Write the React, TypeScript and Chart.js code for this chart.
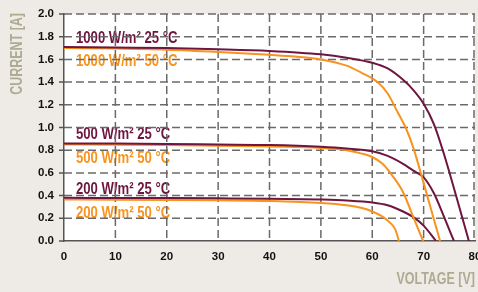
import React, { useEffect, useRef } from "react";
import { Chart, registerables } from "chart.js";

Chart.register(...registerables);

// Voltage [V] and current [A] samples
const voltage1000at25 = [0, 10, 20, 30, 40, 50, 55, 60, 63, 66, 68, 70, 72, 74, 76, 78, 78.8];
const current1000at25 = [1.71, 1.705, 1.7, 1.69, 1.675, 1.645, 1.615, 1.57, 1.52, 1.42, 1.33, 1.21, 1.03, 0.76, 0.45, 0.13, 0];

const voltage1000at50 = [0, 10, 20, 30, 40, 45, 50, 55, 58, 61, 63, 65, 66.5, 68, 70, 72, 73.2];
const current1000at50 = [1.7, 1.695, 1.685, 1.665, 1.64, 1.625, 1.6, 1.545, 1.48, 1.4, 1.3, 1.13, 1.0, 0.82, 0.51, 0.19, 0];

const voltage500at25 = [0, 10, 20, 30, 40, 50, 55, 60, 63, 66, 68, 70, 72, 74, 75.9];
const current500at25 = [0.86, 0.858, 0.855, 0.85, 0.845, 0.83, 0.815, 0.79, 0.75, 0.68, 0.62, 0.56, 0.42, 0.21, 0];

const voltage500at50 = [0, 10, 20, 30, 40, 50, 55, 58, 60, 62, 64, 66, 68, 69.9];
const current500at50 = [0.85, 0.848, 0.845, 0.84, 0.832, 0.82, 0.8, 0.77, 0.74, 0.68, 0.57, 0.43, 0.21, 0];

const voltage200at25 = [0, 10, 20, 30, 40, 50, 55, 60, 63, 66, 68, 70, 72.4];
const current200at25 = [0.38, 0.379, 0.378, 0.376, 0.373, 0.365, 0.357, 0.34, 0.315, 0.26, 0.21, 0.135, 0];

const voltage200at50 = [0, 10, 20, 30, 40, 50, 55, 58, 60, 62, 63.5, 64.5, 65.2];
const current200at50 = [0.365, 0.364, 0.362, 0.358, 0.352, 0.335, 0.315, 0.29, 0.26, 0.215, 0.16, 0.1, 0];

// axis tick values
const voltageTicks = [0, 10, 20, 30, 40, 50, 60, 70, 80];
const currentTicks = [0, 0.2, 0.4, 0.6, 0.8, 1.0, 1.2, 1.4, 1.6, 1.8, 2.0];

const seriesLabels = [
  "1000 W/m\u00B2 25 \u00B0C",
  "1000 W/m\u00B2 50 \u00B0C",
  "500 W/m\u00B2 25 \u00B0C",
  "500 W/m\u00B2 50 \u00B0C",
  "200 W/m\u00B2 25 \u00B0C",
  "200 W/m\u00B2 50 \u00B0C",
];
const seriesTemps = [25, 50, 25, 50, 25, 50];

const xAxisTitle = "VOLTAGE [V]";
const yAxisTitle = "CURRENT [A]";

const DARK = "#6e1540";
const ORANGE = "#f7931e";
const PAGE_BG = "#eeeae6";
const TITLE_COLOR = "#adac93";
const GRID_COLOR = "#6a6a6a";
const AXIS_COLOR = "#555555";
const SANS = "'Liberation Sans', Arial, Helvetica, sans-serif";
const LABEL_CONDENSE = 0.82;
const TITLE_CONDENSE = 0.78;

function narrowText(
  ctx: CanvasRenderingContext2D,
  text: string,
  x: number,
  y: number,
  align: "left" | "right",
  condense: number
) {
  ctx.save();
  ctx.translate(x, y);
  ctx.scale(condense, 1);
  ctx.textAlign = align;
  ctx.fillText(text, 0, 0);
  ctx.restore();
}

// dashed grid through the chart's own scales, slightly heavier strokes
function drawGrid(chart: any) {
  const { ctx, chartArea: a, scales } = chart;
  const xs = scales.x;
  const ys = scales.y;
  const DASH = 8;
  const GAP = 4;
  ctx.save();
  ctx.strokeStyle = GRID_COLOR;
  ctx.lineWidth = 1.5;
  ctx.lineCap = "butt";
  ctx.beginPath();
  voltageTicks.forEach((v) => {
    if (v === voltageTicks[0]) return;
    const px = Math.min(xs.getPixelForValue(v), a.right - 1);
    for (let s = a.top; s < a.bottom; s += DASH + GAP) {
      ctx.moveTo(px, s);
      ctx.lineTo(px, Math.min(s + DASH, a.bottom));
    }
  });
  currentTicks.forEach((c) => {
    if (c === currentTicks[0]) return;
    const py = ys.getPixelForValue(c);
    for (let s = a.left; s < a.right; s += DASH + GAP) {
      ctx.moveTo(s, py);
      ctx.lineTo(Math.min(s + DASH, a.right), py);
    }
  });
  ctx.stroke();
  ctx.strokeStyle = AXIS_COLOR;
  ctx.beginPath();
  currentTicks.forEach((c) => {
    const py = ys.getPixelForValue(c);
    ctx.moveTo(a.left - 5, py);
    ctx.lineTo(a.left, py);
  });
  ctx.stroke();
  ctx.restore();
}

export default function App() {
  const ref = useRef<HTMLCanvasElement>(null);

  useEffect(() => {
    document.body.style.margin = "0";
    document.body.style.background = PAGE_BG;
    const canvas = ref.current;
    if (!canvas) return;

    const voltages = [voltage1000at25, voltage1000at50, voltage500at25, voltage500at50, voltage200at25, voltage200at50];
    const currents = [current1000at25, current1000at50, current500at25, current500at50, current200at25, current200at50];

    const datasets = seriesLabels.map((label, k) => {
      const color = seriesTemps[k] === 25 ? DARK : ORANGE;
      return {
        label,
        data: voltages[k].map((x, i) => ({ x, y: currents[k][i] })),
        borderColor: color,
        backgroundColor: color,
        borderWidth: 2,
        pointRadius: 0,
        showLine: true,
        fill: false,
        cubicInterpolationMode: "monotone" as const,
      };
    });

    const decor = {
      id: "decor",
      beforeDraw(chart: any) {
        const { ctx, chartArea: a, width, height } = chart;
        ctx.save();
        ctx.fillStyle = PAGE_BG;
        ctx.fillRect(0, 0, width, height);
        ctx.fillStyle = "#ffffff";
        ctx.fillRect(a.left, a.top, a.right - a.left, a.bottom - a.top);
        const ys = chart.scales.y;
        ctx.font = `bold 16px ${SANS}`;
        ctx.textBaseline = "alphabetic";
        seriesLabels.forEach((label, k) => {
          const py = ys.getPixelForValue(currents[k][0]);
          const base = seriesTemps[k] === 25 ? py - 4 : py + 18;
          ctx.fillStyle = seriesTemps[k] === 25 ? DARK : ORANGE;
          narrowText(ctx, label, a.left + 12, base, "left", LABEL_CONDENSE);
        });
        ctx.restore();
        drawGrid(chart);
      },
      afterDraw(chart: any) {
        const { ctx, chartArea: a } = chart;
        ctx.save();
        ctx.fillStyle = TITLE_COLOR;
        ctx.font = `bold 16px ${SANS}`;
        ctx.textBaseline = "alphabetic";
        narrowText(ctx, xAxisTitle, a.right, 284, "right", TITLE_CONDENSE);
        ctx.translate(22, a.top - 1);
        ctx.rotate(-Math.PI / 2);
        narrowText(ctx, yAxisTitle, 0, 0, "right", TITLE_CONDENSE);
        ctx.restore();
      },
    };

    const chart = new Chart(canvas, {
      type: "scatter",
      data: { datasets },
      plugins: [decor],
      options: {
        responsive: false,
        animation: false,
        layout: { padding: { top: 14, right: 3, left: 0, bottom: 0 } },
        plugins: { legend: { display: false }, tooltip: { enabled: false } },
        scales: {
          x: {
            type: "linear",
            min: voltageTicks[0],
            max: voltageTicks[voltageTicks.length - 1],
            ticks: {
              stepSize: 10,
              color: "#111",
              padding: 9,
              maxRotation: 0,
              font: { family: SANS, size: 11.5, weight: "bold" },
            },
            grid: { display: false, drawTicks: false },
            border: { display: true, color: AXIS_COLOR, width: 1.5 },
            afterFit(scale: any) {
              scale.height = 51;
              scale.paddingLeft = 0;
              scale.paddingRight = 0;
            },
          },
          y: {
            type: "linear",
            min: currentTicks[0],
            max: currentTicks[currentTicks.length - 1],
            ticks: {
              stepSize: 0.2,
              color: "#111",
              padding: 10,
              callback: (v: any) => Number(v).toFixed(1),
              font: { family: SANS, size: 11.5, weight: "bold" },
            },
            grid: { display: false, drawTicks: false },
            border: { display: true, color: AXIS_COLOR, width: 1.5 },
            afterFit(scale: any) {
              scale.width = 64;
              scale.paddingTop = 0;
              scale.paddingBottom = 0;
            },
          },
        },
      },
    });

    return () => chart.destroy();
  }, []);

  return <canvas ref={ref} width={478} height={292} style={{ display: "block" }} />;
}
